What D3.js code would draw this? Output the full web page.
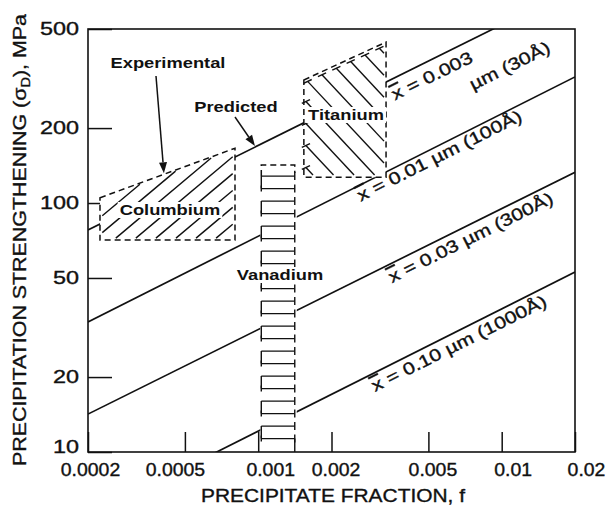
<!DOCTYPE html>
<html>
<head>
<meta charset="utf-8">
<script src="https://cdn.jsdelivr.net/npm/d3@7"></script>
<style>
  body { margin: 0; background: #fff; }
  svg { display: block; }
  text { font-family: "Liberation Sans", Arial, Helvetica, sans-serif; fill: #111; }
  text.med { stroke: #111; stroke-width: 0.35px; }
</style>
</head>
<body>
<svg id="chart" width="606" height="511"></svg>
<script>
// ---- data ---------------------------------------------------------------
// precipitate fraction axis (log) and strengthening axis (log, MPa)
const fractionTicks = [0.0002, 0.0005, 0.001, 0.002, 0.005, 0.01, 0.02];
const fractionTickLabels = ["0.0002", "0.0005", "0.001", "0.002", "0.005", "0.01", "0.02"];
const strengthTicks = [10, 20, 50, 100, 200, 500];

// predicted strengthening lines for each mean particle size
const particleSizeUm = ["0.003", "0.01", "0.03", "0.10"];
const particleSizeA = ["30", "100", "300", "1000"];
const lineFraction = [0.0002, 0.02];
const predictedAtLow = [78, 33.3, 14.2, 5.5];     // MPa at f = 0.0002
const predictedAtHigh = [728, 321, 133, 52.8];    // MPa at f = 0.02

// experimental ranges
const columbiumFraction = [0.000224, 0.000803];
const columbiumExperimental = [105, 166];   // upper bound (dashed)
const columbiumLower = 71;
const titaniumFraction = [0.00154, 0.00335];
const titaniumUpper = [312, 443];
const titaniumLower = 127;
const vanadiumFraction = [0.00102, 0.00144];
const vanadiumUpper = 142;
const vanadiumLower = 10;

// ---- scales -------------------------------------------------------------
const INK = "#111";
const svg = d3.select("#chart");
const x = d3.scaleLog().domain([0.0002, 0.02]).range([88, 575]);
const y = d3.scaleLog().domain([10, 500]).range([452, 29]);

function logInterp(f, f0, f1, v0, v1) {
  const t = (Math.log(f) - Math.log(f0)) / (Math.log(f1) - Math.log(f0));
  return Math.exp(Math.log(v0) + t * (Math.log(v1) - Math.log(v0)));
}
const predicted = (i, f) => logInterp(f, lineFraction[0], lineFraction[1], predictedAtLow[i], predictedAtHigh[i]);
const experimental = f => logInterp(f, columbiumFraction[0], columbiumFraction[1], columbiumExperimental[0], columbiumExperimental[1]);

// stretch text horizontally to the wide lettering of the figure
function widen(sel, k, anchor) {
  sel.each(function () {
    const L = this.getComputedTextLength();
    const x0 = +(this.getAttribute("x") || 0);
    const shift = anchor === "middle" ? L * k / 2 : anchor === "end" ? L * k : 0;
    d3.select(this).attr("text-anchor", "start").attr("x", x0 - shift)
      .attr("textLength", L * k).attr("lengthAdjust", "spacingAndGlyphs");
  });
}

// ---- axes ticks -----------------------------------------------------------
// tick labels sit slightly off their ticks, as lettered on the figure
const xLabelNudge = [2, -10, 12, 4, 4, 11, 11];
const gx = svg.append("g").attr("transform", "translate(0,452)")
  .call(d3.axisBottom(x).tickValues(fractionTicks).tickFormat((d, i) => fractionTickLabels[i])
    .tickSizeInner(-20).tickSizeOuter(0).tickPadding(11));
gx.attr("font-size", null).attr("font-family", null);
gx.select(".domain").remove();
gx.selectAll("line").attr("stroke", INK).attr("stroke-width", 1.5);
gx.selectAll("text").attr("class", "med").attr("font-size", 18).style("fill", INK)
  .attr("x", (d, i) => xLabelNudge[i]);
widen(gx.selectAll("text"), 1.08, "middle");

const gy = svg.append("g").attr("transform", "translate(88,0)")
  .call(d3.axisLeft(y).tickValues(strengthTicks).tickFormat(d3.format("d"))
    .tickSizeInner(-24).tickSizeOuter(0).tickPadding(9));
gy.attr("font-size", null).attr("font-family", null);
gy.select(".domain").remove();
gy.selectAll("line").attr("stroke", INK).attr("stroke-width", 1.5);
gy.selectAll("text").attr("class", "med").attr("font-size", 18).style("fill", INK)
  .attr("dy", d => d === 10 ? "0.0em" : "0.32em");
widen(gy.selectAll("text"), 1.3, "end");

// ---- predicted lines --------------------------------------------------------
svg.append("clipPath").attr("id", "plot").append("rect")
  .attr("x", 88).attr("y", 29).attr("width", 487).attr("height", 423);
const lineGen = d3.line();
svg.append("g").attr("clip-path", "url(#plot)")
  .selectAll("path").data(particleSizeUm).join("path")
  .attr("d", (d, i) => lineGen(lineFraction.map(f => [x(f), y(predicted(i, f))])))
  .attr("fill", "none").attr("stroke", INK).attr("stroke-width", 1.7);

// ---- experimental regions ----------------------------------------------------
const colPoly = [
  [x(columbiumFraction[0]), y(columbiumExperimental[0])],
  [x(columbiumFraction[1]), y(columbiumExperimental[1])],
  [x(columbiumFraction[1]), y(columbiumLower)],
  [x(columbiumFraction[0]), y(columbiumLower)]
];
const tiPoly = [
  [x(titaniumFraction[0]), y(titaniumUpper[0])],
  [x(titaniumFraction[1]), y(titaniumUpper[1])],
  [x(titaniumFraction[1]), y(titaniumLower)],
  [x(titaniumFraction[0]), y(titaniumLower)]
];
const vx0 = x(vanadiumFraction[0]), vx1 = x(vanadiumFraction[1]);
const vy0 = y(vanadiumUpper), vy1 = y(vanadiumLower);
const vPoly = [[vx0, vy0], [vx1, vy0], [vx1, vy1], [vx0, vy1]];

const regions = svg.append("g");
regions.selectAll("path.fill").data([colPoly, tiPoly, vPoly]).join("path")
  .attr("class", "fill").attr("d", p => "M" + p.join("L") + "Z").attr("fill", "#fff");

// clip a line through a convex polygon
function clipThrough(poly, p0, u) {
  const c = [d3.mean(poly, p => p[0]), d3.mean(poly, p => p[1])];
  let t0 = -1e4, t1 = 1e4;
  for (let i = 0; i < poly.length; i++) {
    const a = poly[i], b = poly[(i + 1) % poly.length];
    let n = [-(b[1] - a[1]), b[0] - a[0]];
    if (n[0] * (c[0] - a[0]) + n[1] * (c[1] - a[1]) < 0) n = [-n[0], -n[1]];
    const num = n[0] * (p0[0] - a[0]) + n[1] * (p0[1] - a[1]);
    const den = n[0] * u[0] + n[1] * u[1];
    if (Math.abs(den) < 1e-9) { if (num < 0) return null; continue; }
    const t = -num / den;
    if (den > 0) t0 = Math.max(t0, t); else t1 = Math.min(t1, t);
  }
  if (t0 >= t1) return null;
  return [[p0[0] + t0 * u[0], p0[1] + t0 * u[1]], [p0[0] + t1 * u[0], p0[1] + t1 * u[1]]];
}
function hatchSegments(poly, dir, spacing, inset, phase) {
  const len = Math.hypot(dir[0], dir[1]);
  const u = [dir[0] / len, dir[1] / len], v = [-u[1], u[0]];
  const c = [d3.mean(poly, p => p[0]), d3.mean(poly, p => p[1])];
  const segs = [];
  for (let k = -20; k <= 20; k++) {
    const s = (k + phase) * spacing;
    const seg = clipThrough(poly, [c[0] + v[0] * s, c[1] + v[1] * s], u);
    if (!seg) continue;
    const L = Math.hypot(seg[1][0] - seg[0][0], seg[1][1] - seg[0][1]);
    if (L < 2 * inset + 3) continue;
    segs.push([[seg[0][0] + u[0] * inset, seg[0][1] + u[1] * inset],
               [seg[1][0] - u[0] * inset, seg[1][1] - u[1] * inset]]);
  }
  return segs;
}

const hatchStyle = s => s.attr("stroke", INK).attr("stroke-width", 1.4).attr("fill", "none");

// Columbium: "/" hatching
regions.append("g").selectAll("path").data(hatchSegments(colPoly, [1, -0.84], 12.9, 3, 0.3)).join("path")
  .attr("d", s => lineGen(s)).call(hatchStyle);

// Titanium: "\" hatching with capped upper ends
const tiSegs = hatchSegments(tiPoly, [1, 1.07], 15, 3, 0.1);
regions.append("g").selectAll("path").data(tiSegs).join("path")
  .attr("d", s => lineGen(s)).call(hatchStyle);
const te = [tiPoly[1][0] - tiPoly[0][0], tiPoly[1][1] - tiPoly[0][1]];
const teL = Math.hypot(te[0], te[1]);
const teU = [te[0] / teL, te[1] / teL];
regions.append("g").selectAll("path").data(tiSegs.map(s => s[0][1] < s[1][1] ? s[0] : s[1])).join("path")
  .attr("d", p => lineGen([[p[0] - teU[0] * 4.5, p[1] - teU[1] * 4.5], [p[0] + teU[0] * 4.5, p[1] + teU[1] * 4.5]]))
  .call(hatchStyle);

// Vanadium: ladder-like hatching, rungs bracketed in pairs on the left
const lg = regions.append("g");
const rungs = d3.range(vy0 + 11, vy1 - 3, 12.5);
rungs.forEach((ry, i) => {
  lg.append("path").attr("d", lineGen([[vx0 + 1, ry], [vx1 - 2, ry]])).call(hatchStyle);
  lg.append("path").attr("d", lineGen([[vx1 - 2, ry - 4], [vx1 - 2, ry + 4]])).call(hatchStyle);
  if (i % 2 === 0) {
    const nextY = Math.min(ry + 12.5, vy1);
    lg.append("path").attr("d", lineGen([[vx0 + 1, ry], [vx0 + 1, nextY]])).call(hatchStyle);
  } else {
    lg.append("path").attr("d", lineGen([[vx0 + 1, ry - 3], [vx0 + 1, ry + 3]])).call(hatchStyle);
  }
});
lg.append("path").attr("d", lineGen([[vx1 - 2, rungs[rungs.length - 1]], [vx1 - 2, vy1]])).call(hatchStyle);

// dashed outlines
const dashed = s => s.attr("fill", "none").attr("stroke", INK).attr("stroke-width", 1.5).attr("stroke-dasharray", "6,4");
regions.append("path").attr("d", "M" + colPoly.join("L") + "Z").call(dashed);
regions.append("path").attr("d", "M" + tiPoly.join("L") + "Z").call(dashed);
regions.append("path").attr("d", lineGen([[vx0 + 1, vy0 + 11], [vx0 + 1, vy0], [vx1 - 2, vy0], [vx1 - 2, vy0 + 8]])).call(dashed);

// ---- frame ----------------------------------------------------------------
svg.append("rect").attr("x", 88).attr("y", 29).attr("width", 487).attr("height", 423)
  .attr("fill", "none").attr("stroke", INK).attr("stroke-width", 1.6);

// ---- region labels ------------------------------------------------------------
const labels = svg.append("g");
function boxedLabel(txt, cx, by) {
  const t = labels.append("text").attr("x", cx).attr("y", by)
    .attr("font-size", 15).attr("font-weight", "bold").text(txt);
  widen(t, 1.22, "middle");
  const b = t.node().getBBox();
  labels.insert("rect", () => t.node())
    .attr("x", b.x - 2).attr("y", b.y + 1).attr("width", b.width + 4).attr("height", b.height - 1)
    .attr("fill", "#fff");
}
boxedLabel("Columbium", 170, 215);
boxedLabel("Titanium", 346, 120);
boxedLabel("Vanadium", 280, 280);

labels.append("text").attr("x", 168).attr("y", 68).attr("font-size", 15).attr("font-weight", "bold")
  .text("Experimental").call(widen, 1.22, "middle");
labels.append("text").attr("x", 236).attr("y", 112).attr("font-size", 15).attr("font-weight", "bold")
  .text("Predicted").call(widen, 1.22, "middle");

// arrows
function arrow(from, to) {
  const dx = to[0] - from[0], dy = to[1] - from[1], L = Math.hypot(dx, dy);
  const u = [dx / L, dy / L], n = [-u[1], u[0]];
  const base = [to[0] - u[0] * 11, to[1] - u[1] * 11];
  labels.append("path").attr("d", lineGen([from, base]))
    .attr("stroke", INK).attr("stroke-width", 1.5).attr("fill", "none");
  labels.append("path")
    .attr("d", "M" + to + "L" + [base[0] + n[0] * 4, base[1] + n[1] * 4] + "L" + [base[0] - n[0] * 4, base[1] - n[1] * 4] + "Z")
    .attr("fill", INK);
}
const expTipF = 0.00041;
arrow([156, 76], [x(expTipF), y(experimental(expTipF)) - 1]);
const predTipF = 0.00097;
arrow([235, 117], [x(predTipF), y(predicted(0, predTipF)) - 1]);

// ---- line labels (rotated along each line) ------------------------------------
const ang = i => Math.atan2(y(predictedAtHigh[i]) - y(predictedAtLow[i]), x(lineFraction[1]) - x(lineFraction[0])) * 180 / Math.PI;
const labelStart = [0.00365, 0.00264, 0.00354, 0.00302];
const labelDrop = [23, 17, 20, 19.5];
function lineLabel(i, f, drop, parts) {
  const g = labels.append("g")
    .attr("transform", `translate(${x(f)},${y(predicted(i, f)) + drop}) rotate(${ang(i)})`);
  const t = g.append("text").attr("class", "med").attr("font-size", 17);
  parts.forEach(p => {
    const s = t.append("tspan").text(p.t);
    if (p.bar) s.attr("text-decoration", "overline");
  });
  widen(t, 1.25, "start");
}
particleSizeUm.forEach((s, i) => {
  if (i === 0) {
    lineLabel(0, labelStart[0], labelDrop[0], [{ t: "x", bar: true }, { t: ` = ${s}` }]);
    lineLabel(0, 0.00762, 51.5, [{ t: `\u00b5m (${particleSizeA[0]}\u00c5)` }]);
  } else {
    lineLabel(i, labelStart[i], labelDrop[i], [{ t: "x", bar: true }, { t: ` = ${s} \u00b5m (${particleSizeA[i]}\u00c5)` }]);
  }
});

// ---- axis titles ------------------------------------------------------------------
const xt = svg.append("text").attr("class", "med").attr("x", 333).attr("y", 502).attr("font-size", 18)
  .text("PRECIPITATE FRACTION, f");
widen(xt, 264 / xt.node().getComputedTextLength(), "middle");

const yt = svg.append("text").attr("class", "med").attr("transform", "translate(26,240) rotate(-90)").attr("font-size", 19);
yt.append("tspan").text("PRECIPITATION STRENGTHENING (\u03c3");
yt.append("tspan").attr("font-size", 13).attr("dy", 4).text("D");
yt.append("tspan").attr("dy", -4).text("), MPa");
widen(yt, 452 / yt.node().getComputedTextLength(), "middle");
</script>
</body>
</html>
